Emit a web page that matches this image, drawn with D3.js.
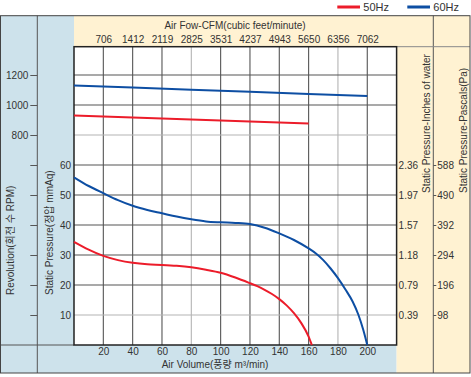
<!DOCTYPE html>
<html>
<head>
<meta charset="utf-8">
<script src="https://cdn.jsdelivr.net/npm/d3@7"></script>
<style>
  body { margin: 0; background: #fff; }
  svg text { font-family: "Liberation Sans", Arial, "Noto Sans CJK KR", sans-serif; fill: #333; }
</style>
</head>
<body>
<svg id="chart" width="471" height="377"></svg>
<script>
// air volume (m3/min) vs static pressure (mmAq)
const flow50 = [0, 10, 20, 30, 40, 50, 60, 70, 80, 90, 100, 110, 120, 125, 130, 135, 140, 145, 150, 155, 160, 162.2];
const press50 = [34.4, 31.8, 29.7, 28.3, 27.4, 26.9, 26.7, 26.4, 25.9, 25.1, 24.1, 22.5, 20.6, 19.6, 18.4, 17.0, 15.3, 13.2, 10.6, 7.3, 2.8, 0];
const flow60 = [0, 10, 20, 30, 40, 50, 60, 70, 80, 90, 100, 110, 120, 130, 140, 150, 160, 165, 170, 175, 180, 185, 190, 194, 197.3, 200];
const press60 = [55.9, 53.0, 50.6, 48.3, 46.4, 45.0, 43.9, 42.8, 41.9, 41.2, 40.9, 40.7, 40.3, 39.1, 37.2, 35.0, 32.2, 30.5, 28.3, 25.5, 22.3, 18.6, 14.5, 10, 5, 0];

// air volume vs revolution (RPM)
const rpmFlow50 = [0, 40, 80, 120, 160];
const rpm50 = [930, 917, 904, 890, 876];
const rpmFlow60 = [0, 40, 80, 120, 160, 200];
const rpm60 = [1130, 1116, 1102, 1088, 1074, 1060];

// tick labels
const flowTicks = [20, 40, 60, 80, 100, 120, 140, 160, 180, 200];
const cfmLabels = ["706", "1412", "2119", "2825", "3531", "4237", "4943", "5650", "6356", "7062"];
const pressTicks = [10, 20, 30, 40, 50, 60];
const inchLabels = ["0.39", "0.79", "1.18", "1.57", "1.97", "2.36"];
const pascalLabels = ["98", "196", "294", "392", "490", "588"];
const rpmTicks = [-400, -200, 0, 200, 400, 600, 800, 1000, 1200];
const rpmLabelled = [800, 1000, 1200];

const RED = "#ec1c2a";
const BLUE = "#0d4ea3";
const LBLUE = "#cde2eb";
const TAN = "#fff2d2";
const GRID = "#555";

const svg = d3.select("#chart");

const plotLeft = 74, plotRight = 396.6, plotTop = 46.7, plotBottom = 345;
const frameTop = 15.7, frameBottom = 373, frameRight = 470;

const x = d3.scaleLinear().domain([0, 220]).range([plotLeft, plotRight]);
const y = d3.scaleLinear().domain([0, 100]).range([plotBottom, 45]);
const yRpm = d3.scaleLinear().domain([-600, 1400]).range([plotBottom, 45]);

// background panels
svg.append("rect").attr("x", 0).attr("y", frameTop).attr("width", plotLeft).attr("height", frameBottom - frameTop).attr("fill", LBLUE);
svg.append("rect").attr("x", plotLeft).attr("y", plotBottom).attr("width", plotRight - plotLeft).attr("height", frameBottom - plotBottom).attr("fill", LBLUE);
svg.append("rect").attr("x", plotLeft).attr("y", frameTop).attr("width", frameRight - plotLeft).attr("height", plotTop - frameTop).attr("fill", TAN);
svg.append("rect").attr("x", plotRight).attr("y", plotTop).attr("width", frameRight - plotRight).attr("height", frameBottom - plotTop).attr("fill", TAN);
svg.append("rect").attr("x", plotLeft).attr("y", plotTop).attr("width", plotRight - plotLeft).attr("height", plotBottom - plotTop).attr("fill", "#fff");

// dividers
const lines = svg.append("g").attr("stroke", GRID).attr("stroke-width", 1);
lines.append("line").attr("x1", 37.3).attr("x2", 37.3).attr("y1", frameTop).attr("y2", frameBottom);
lines.append("line").attr("x1", 433.3).attr("x2", 433.3).attr("y1", frameTop).attr("y2", frameBottom);
lines.append("line").attr("x1", 0).attr("x2", plotLeft).attr("y1", plotBottom).attr("y2", plotBottom);
lines.append("line").attr("x1", plotRight).attr("x2", frameRight).attr("y1", plotTop).attr("y2", plotTop).attr("stroke", "#888");

// grid
const grid = svg.append("g");
const lightX = [80, 180];
grid.selectAll("line.vx").data(d3.range(20, 220, 20)).join("line")
  .attr("x1", d => x(d)).attr("x2", d => x(d)).attr("y1", plotTop).attr("y2", plotBottom)
  .attr("stroke", d => lightX.includes(d) ? "#b4b4b4" : GRID).attr("stroke-width", 1.1);
const lightY = [10, 70];
grid.selectAll("line.hy").data(d3.range(10, 100, 10)).join("line")
  .attr("x1", plotLeft).attr("x2", plotRight).attr("y1", d => y(d)).attr("y2", d => y(d))
  .attr("stroke", d => lightY.includes(d) ? "#b4b4b4" : GRID).attr("stroke-width", 1.1);

// plot border
svg.append("rect").attr("x", plotLeft).attr("y", plotTop).attr("width", plotRight - plotLeft).attr("height", plotBottom - plotTop)
  .attr("fill", "none").attr("stroke", "#222").attr("stroke-width", 1.5);

// outer frame
svg.append("rect").attr("x", 0.5).attr("y", frameTop).attr("width", frameRight - 0.5).attr("height", frameBottom - frameTop)
  .attr("fill", "none").attr("stroke", "#444").attr("stroke-width", 1);

// bottom axis
const xAxis = svg.append("g").attr("transform", `translate(0,${plotBottom})`)
  .call(d3.axisBottom(x).tickValues(flowTicks).tickSize(0).tickPadding(3));
xAxis.select(".domain").remove();
xAxis.selectAll("text").attr("font-size", 10).attr("fill", "#333");
svg.append("text").attr("x", 215).attr("y", 364).attr("dy", "0.35em").attr("text-anchor", "middle")
  .attr("font-size", 10).text("Air Volume(풍량 m³/min)");

// top CFM axis
const topAxis = svg.append("g").attr("transform", `translate(0,45)`)
  .call(d3.axisTop(x).tickValues(flowTicks).tickSize(0).tickPadding(2)
    .tickFormat((d, i) => cfmLabels[i]));
topAxis.select(".domain").remove();
topAxis.selectAll("text").attr("font-size", 10).attr("fill", "#333");
svg.append("text").attr("x", 235).attr("y", 25).attr("dy", "0.35em").attr("text-anchor", "middle")
  .attr("font-size", 10).text("Air Fow-CFM(cubic feet/minute)");

// left pressure axis (mmAq)
const pAxis = svg.append("g").attr("transform", `translate(${plotLeft},0)`)
  .call(d3.axisLeft(y).tickValues(pressTicks).tickSize(0).tickPadding(3));
pAxis.select(".domain").remove();
pAxis.selectAll("text").attr("font-size", 10).attr("fill", "#333");

// RPM axis
const rAxis = svg.append("g").attr("transform", `translate(37.3,0)`)
  .call(d3.axisLeft(yRpm).tickValues(rpmTicks).tickSize(7).tickPadding(2)
    .tickFormat(d => rpmLabelled.includes(d) ? d : ""));
rAxis.select(".domain").remove();
rAxis.selectAll("line").attr("stroke", GRID);
rAxis.selectAll("text").attr("font-size", 10).attr("fill", "#333");

// inches axis
const iAxis = svg.append("g").attr("transform", `translate(${plotRight},0)`)
  .call(d3.axisRight(y).tickValues(pressTicks).tickSize(0).tickPadding(2)
    .tickFormat((d, i) => inchLabels[i]));
iAxis.select(".domain").remove();
iAxis.selectAll("text").attr("font-size", 10).attr("fill", "#333");

// pascal axis
const paAxis = svg.append("g").attr("transform", `translate(433.3,0)`)
  .call(d3.axisRight(y).tickValues(pressTicks).tickSize(3).tickPadding(1)
    .tickFormat((d, i) => pascalLabels[i]));
paAxis.select(".domain").remove();
paAxis.selectAll("line").attr("stroke", GRID);
paAxis.selectAll("text").attr("font-size", 10).attr("fill", "#333");

// rotated titles
function vTitle(cx, startY, label) {
  svg.append("text").attr("transform", `translate(${cx},${startY}) rotate(-90)`)
    .attr("dy", "0.35em").attr("font-size", 10).attr("text-anchor", "start").text(label);
}
vTitle(10.5, 295, "Revolution(회전 수 RPM)");
vTitle(49, 295, "Static Pressure(정압 mmAq)");
vTitle(426, 193, "Static Pressure-Inches of water");
vTitle(463, 193, "Static Pressure-Pascals(Pa)");

// curves
const pLine = d3.line().x(d => x(d[0])).y(d => y(d[1])).curve(d3.curveMonotoneX);
const rLine = d3.line().x(d => x(d[0])).y(d => yRpm(d[1]));
const curves = svg.append("g").attr("fill", "none").attr("stroke-width", 2).attr("stroke-linecap", "butt");
curves.append("path").attr("d", rLine(d3.zip(rpmFlow60, rpm60))).attr("stroke", BLUE);
curves.append("path").attr("d", rLine(d3.zip(rpmFlow50, rpm50))).attr("stroke", RED);
curves.append("path").attr("d", pLine(d3.zip(flow60, press60))).attr("stroke", BLUE);
curves.append("path").attr("d", pLine(d3.zip(flow50, press50))).attr("stroke", RED);

// legend
const legend = [{ name: "50Hz", color: RED, x: 337.3 }, { name: "60Hz", color: BLUE, x: 407.3 }];
const lg = svg.append("g");
legend.forEach(d => {
  lg.append("line").attr("x1", d.x).attr("x2", d.x + 22.7).attr("y1", 7).attr("y2", 7)
    .attr("stroke", d.color).attr("stroke-width", 3);
  lg.append("text").attr("x", d.x + 26).attr("y", 7).attr("dy", "0.35em").attr("font-size", 11).text(d.name);
});
</script>
</body>
</html>
